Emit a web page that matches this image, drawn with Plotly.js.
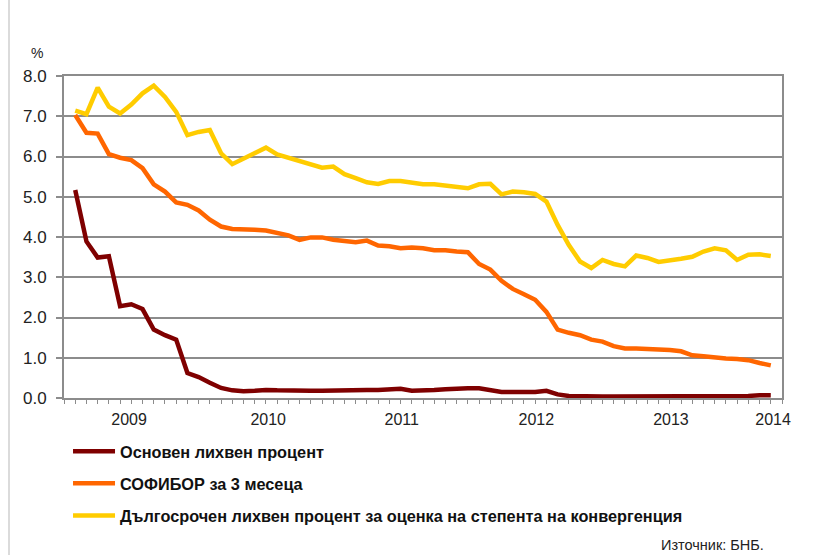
<!DOCTYPE html>
<html>
<head>
<meta charset="utf-8">
<script src="https://cdn.plot.ly/plotly-3.0.1.min.js"></script>
<style>html,body{margin:0;padding:0;background:#fff;}#chart{width:818px;height:555px;}</style>
</head>
<body>
<div id="chart"></div>
<script>
// Monthly data, Jan 2009 – Mar 2014 (63 months)
var seriesNames = [
  "Основен лихвен процент",
  "СОФИБОР за 3 месеца",
  "Дългосрочен лихвен процент за оценка на степента на конвергенция"
];
var baseRate = [
  5.17, 3.89, 3.49, 3.52, 2.28, 2.33, 2.21, 1.70, 1.56, 1.45, 0.62, 0.52, 0.38, 0.25, 0.19, 0.17,
  0.18, 0.20, 0.19, 0.18, 0.18, 0.18, 0.18, 0.19, 0.19, 0.19, 0.20, 0.20, 0.22, 0.23, 0.18, 0.18,
  0.20, 0.22, 0.24, 0.24, 0.24, 0.19, 0.15, 0.15, 0.14, 0.15, 0.18, 0.09, 0.05, 0.04, 0.04, 0.04,
  0.04, 0.04, 0.04, 0.04, 0.04, 0.04, 0.04, 0.04, 0.04, 0.04, 0.04, 0.04, 0.05, 0.07, 0.07
];
var sofibor3m = [
  7.03, 6.59, 6.57, 6.06, 5.97, 5.91, 5.71, 5.31, 5.13, 4.86, 4.80, 4.66, 4.43, 4.26, 4.20, 4.20,
  4.18, 4.16, 4.09, 4.04, 3.93, 3.99, 3.99, 3.93, 3.90, 3.87, 3.91, 3.79, 3.77, 3.72, 3.74, 3.72,
  3.67, 3.67, 3.64, 3.62, 3.33, 3.19, 2.91, 2.71, 2.58, 2.44, 2.14, 1.70, 1.62, 1.56, 1.45, 1.40,
  1.29, 1.23, 1.23, 1.22, 1.20, 1.19, 1.16, 1.06, 1.04, 1.00, 0.98, 0.97, 0.94, 0.87, 0.81
];
var longTerm = [
  7.14, 7.05, 7.71, 7.24, 7.07, 7.29, 7.57, 7.76, 7.48, 7.11, 6.53, 6.61, 6.66, 6.08, 5.81, 5.95,
  6.10, 6.22, 6.05, 5.97, 5.87, 5.81, 5.72, 5.75, 5.56, 5.46, 5.36, 5.32, 5.39, 5.39, 5.36, 5.31,
  5.31, 5.28, 5.26, 5.21, 5.31, 5.32, 5.06, 5.13, 5.11, 5.07, 4.88, 4.30, 3.80, 3.39, 3.23, 3.43,
  3.33, 3.27, 3.54, 3.48, 3.38, 3.41, 3.46, 3.51, 3.64, 3.72, 3.67, 3.43, 3.56, 3.57, 3.53
];
var yearLabels = ["2009", "2010", "2011", "2012", "2013", "2014"];
var yearLabelPos = [5.8, 18.2, 30.1, 42.1, 54.1, 63.2];  // month-index positions of year labels
var yearBoundaries = [12, 24, 36, 48, 60];               // major tick positions
var yTicks = [0, 1, 2, 3, 4, 5, 6, 7, 8];
var colors = ["#7f0000", "#ff6600", "#ffcc00"];

var monthIdx = baseRate.map(function (_, i) { return i + 1; });
var allSeries = [baseRate, sofibor3m, longTerm];

var traces = allSeries.map(function (ys, s) {
  return {
    x: monthIdx, y: ys, type: "scatter", mode: "lines",
    name: seriesNames[s], legendgroup: "g" + s,
    line: { color: colors[s], width: 4.5 },
    hoverinfo: "skip"
  };
});

var axisGray = "#8c8c8c";
var font = "Liberation Sans, Arial, sans-serif";

var layout = {
  width: 818, height: 555,
  margin: { l: 64, r: 36, t: 76, b: 157 },
  paper_bgcolor: "#ffffff", plot_bgcolor: "#ffffff",
  font: { family: font, color: "#222222" },
  showlegend: true,
  legend: {
    x: 0.0056, y: -0.112, xanchor: "left", yanchor: "top",
    orientation: "v", tracegroupgap: 8, itemwidth: 42,
    font: { family: font, size: 16.3, color: "#111111", weight: "bold" },
    bgcolor: "rgba(0,0,0,0)"
  },
  xaxis: {
    range: [0, 64], zeroline: false, showgrid: false,
    showline: true, linecolor: axisGray, linewidth: 2, mirror: true,
    tickmode: "array", tickvals: yearLabelPos, ticktext: yearLabels,
    ticks: "", ticklabelstandoff: 6, tickfont: { family: font, size: 16, color: "#222222" },
    minor: { tickmode: "linear", tick0: 0, dtick: 1, ticks: "outside", ticklen: 4, tickcolor: axisGray, tickwidth: 1 },
    fixedrange: true
  },
  xaxis2: {
    overlaying: "x", anchor: "y", side: "bottom", range: [0, 64],
    showgrid: false, zeroline: false, showline: false,
    tickmode: "array", tickvals: yearBoundaries, ticktext: yearBoundaries.map(function () { return ""; }),
    ticks: "outside", ticklen: 7, tickwidth: 1.5, tickcolor: axisGray, showticklabels: true
  },
  yaxis: {
    range: [0, 8], tickmode: "array", tickvals: yTicks,
    ticktext: yTicks.map(function (v) { return v.toFixed(1); }),
    showgrid: true, gridcolor: axisGray, gridwidth: 2,
    zeroline: false, showline: true, linecolor: axisGray, linewidth: 2, mirror: true,
    ticks: "outside", ticklen: 6, tickcolor: axisGray, tickwidth: 2,
    ticklabelstandoff: 6,
    tickfont: { family: font, size: 17, color: "#222222" },
    fixedrange: true
  },
  annotations: [
    { text: "%", xref: "paper", yref: "paper", x: -0.038, y: 1.07, xanchor: "center", yanchor: "middle",
      showarrow: false, font: { family: font, size: 14, color: "#222222" } },
    { text: "Източник: БНБ.", xref: "paper", yref: "paper", x: 0.978, y: -0.455, xanchor: "right", yanchor: "middle",
      showarrow: false, font: { family: font, size: 14.5, color: "#222222" } }
  ],
  shapes: [
    { type: "line", xref: "paper", yref: "paper", x0: -0.0766, x1: -0.0766, y0: -0.49, y1: 1.24,
      line: { color: "#cfcfcf", width: 1.5 } }
  ]
};

Plotly.newPlot("chart", traces, layout, { displayModeBar: false, staticPlot: true });
</script>
</body>
</html>
